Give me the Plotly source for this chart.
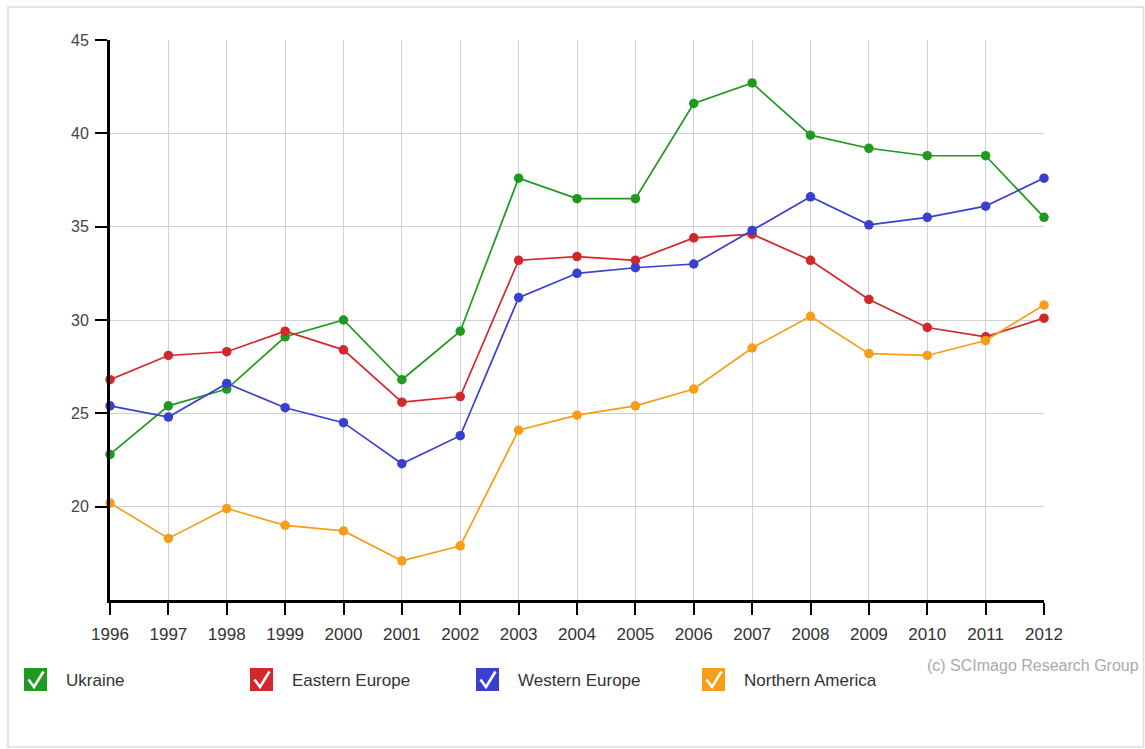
import plotly.graph_objects as go

years = list(range(1996, 2013))
ukraine = [22.8, 25.4, 26.3, 29.1, 30.0, 26.8, 29.4, 37.6, 36.5, 36.5, 41.6, 42.7, 39.9, 39.2, 38.8, 38.8, 35.5]
eastern_europe = [26.8, 28.1, 28.3, 29.4, 28.4, 25.6, 25.9, 33.2, 33.4, 33.2, 34.4, 34.6, 33.2, 31.1, 29.6, 29.1, 30.1]
western_europe = [25.4, 24.8, 26.6, 25.3, 24.5, 22.3, 23.8, 31.2, 32.5, 32.8, 33.0, 34.8, 36.6, 35.1, 35.5, 36.1, 37.6]
northern_america = [20.2, 18.3, 19.9, 19.0, 18.7, 17.1, 17.9, 24.1, 24.9, 25.4, 26.3, 28.5, 30.2, 28.2, 28.1, 28.9, 30.8]

series_names = ["Ukraine", "Eastern Europe", "Western Europe", "Northern America"]
series_values = [ukraine, eastern_europe, western_europe, northern_america]
colors = ["#1f9a1f", "#d3272b", "#3a3fcf", "#f89d17"]
y_ticks = [20, 25, 30, 35, 40, 45]

W, H = 1145, 749
# plot area in page pixels
L, R, T, B = 110, 1044, 40, 600
FONT = "Arial, Liberation Sans, sans-serif"

fig = go.Figure()
for name, vals, col in zip(series_names, series_values, colors):
    fig.add_trace(go.Scatter(
        x=years, y=vals, name=name, mode="lines+markers",
        line=dict(color=col, width=1.7),
        marker=dict(color=col, size=9.5, line=dict(width=0)),
        showlegend=False, cliponaxis=False,
    ))

def px(xp):
    return (xp - L) / (R - L)

def py(yp):
    return (B - yp) / (B - T)

shapes = []
annotations = []
# outer frame
shapes.append(dict(type="rect", xref="paper", yref="paper",
                   x0=px(8), x1=px(1143.5), y0=py(747), y1=py(7),
                   line=dict(color="#dcdcdc", width=1.5), fillcolor="rgba(0,0,0,0)", layer="below"))

legend_x = [24, 250, 476, 702]
box = 23
top = 668
for name, col, bx in zip(series_names, colors, legend_x):
    shapes.append(dict(type="rect", xref="paper", yref="paper",
                       x0=px(bx), x1=px(bx + box), y0=py(top + box), y1=py(top),
                       line=dict(width=0), fillcolor=col))
    path = "M {:.5f},{:.5f} L {:.5f},{:.5f} L {:.5f},{:.5f}".format(
        px(bx + 4.5), py(top + 11.5), px(bx + 10), py(top + 19), px(bx + 19.5), py(top + 3.5))
    shapes.append(dict(type="path", xref="paper", yref="paper", path=path,
                       line=dict(color="white", width=2.6)))
    annotations.append(dict(xref="paper", yref="paper", x=px(bx + 40), y=py(top + 12),
                            text=name, showarrow=False, xanchor="left", yanchor="middle",
                            font=dict(family=FONT, size=17, color="#333333")))

annotations.append(dict(xref="paper", yref="paper", x=px(1141), y=py(665),
                        text="(c) SCImago Research Group", showarrow=False,
                        xanchor="right", yanchor="middle",
                        font=dict(family=FONT, size=16, color="#aaaaaa")))

fig.update_layout(
    width=W, height=H,
    margin=dict(l=L, r=W - R, t=T, b=H - B, pad=0),
    paper_bgcolor="white", plot_bgcolor="white",
    shapes=shapes, annotations=annotations,
    font=dict(family=FONT, size=15, color="#333333"),
    xaxis=dict(range=[1996, 2012], tickmode="array", tickvals=years,
               ticktext=[str(y) for y in years],
               showgrid=True, gridcolor="#d0d0d0", gridwidth=1,
               showline=True, linecolor="black", linewidth=3,
               ticks="outside", ticklen=12, tickwidth=2, tickcolor="black",
               ticklabelstandoff=5,
               tickfont=dict(family=FONT, size=17, color="#333333"),
               zeroline=False, fixedrange=True),
    yaxis=dict(range=[15, 45], tickmode="array", tickvals=y_ticks,
               showgrid=True, gridcolor="#d0d0d0", gridwidth=1,
               showline=True, linecolor="black", linewidth=3,
               ticks="outside", ticklen=12, tickwidth=2, tickcolor="black",
               ticklabelstandoff=3,
               tickfont=dict(family=FONT, size=16, color="#444444"),
               zeroline=False, fixedrange=True),
)

fig.write_html(
    "out.html",
    config={"displayModeBar": False, "staticPlot": False},
    post_script="document.body.style.margin='0';document.body.style.overflow='hidden';",
)
